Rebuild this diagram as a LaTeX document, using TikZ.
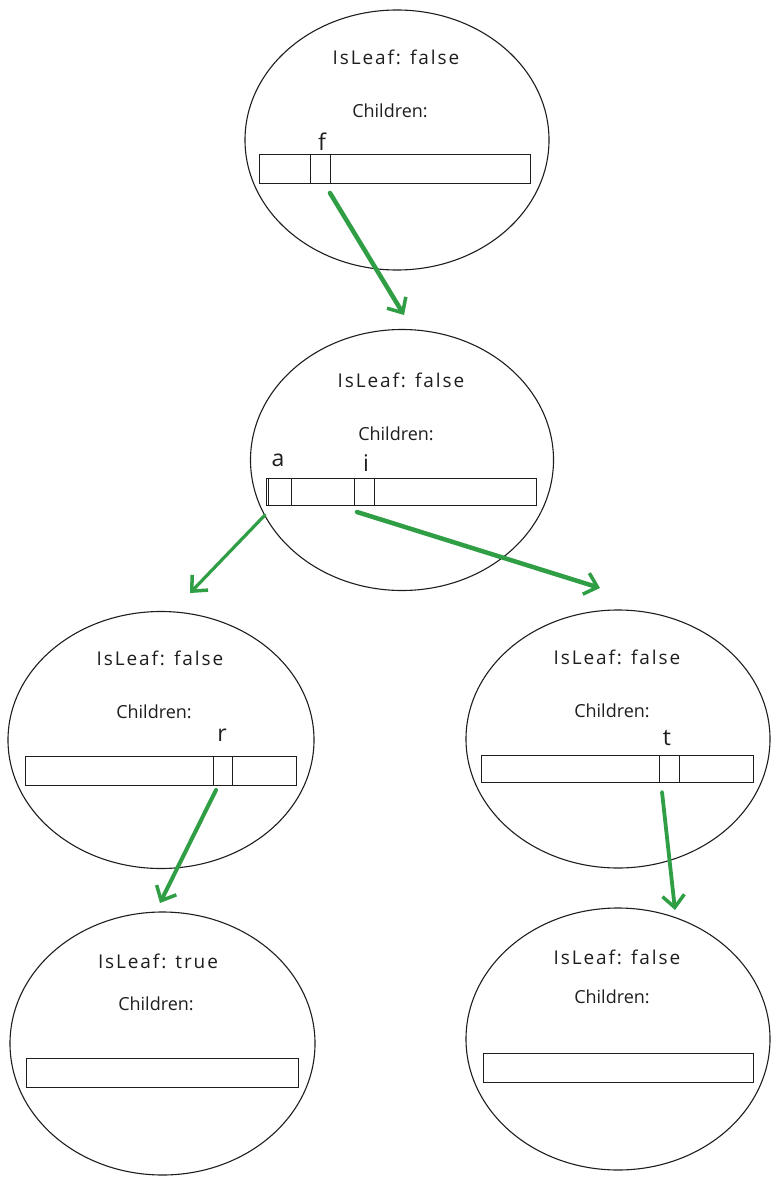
\documentclass[tikz,border=0pt]{standalone}
\usepackage{fontspec}
\setmainfont{Open Sans}
\newfontfamily\sketchfont[LetterSpace=10]{Open Sans}
\usetikzlibrary{shapes.geometric,arrows.meta}
\definecolor{ink}{HTML}{1E1E1E}
\definecolor{grn}{HTML}{2F9E44}
\begin{document}
\begin{tikzpicture}[x=1pt,y=-1pt,
  treenode/.style={draw=ink,line width=1.1pt,ellipse,inner sep=0pt},
  lbl/.style={font=\sketchfont\fontsize{19}{22}\selectfont,text=ink,inner sep=0pt},
  chl/.style={font=\fontsize{18}{21}\selectfont,text=ink,inner sep=0pt},
  key/.style={font=\fontsize{23}{25}\selectfont,text=ink,inner sep=0pt},
  barbox/.style={draw=ink,line width=1pt,rectangle,inner sep=0pt},
  link/.style={draw=grn,line width=4.5pt,line cap=round,-{Straight Barb[length=12pt,width=22pt,line width=3.5pt]}}]
\useasboundingbox (0,0) rectangle (781,1185);
\fill[white] (0,0) rectangle (781,1185);

% node 1
\node[treenode,minimum width=304pt,minimum height=260pt] (n1) at (397,140) {};
\node[lbl] (t1) at (396,57) {IsLeaf: false};
\node[chl] (c1) at (390,111) {Children:};
\node[barbox,minimum width=271pt,minimum height=29pt] (b1) at (394.5,169.5) {};
\node[barbox,minimum width=20pt,minimum height=29pt] (k1) at (320,169.5) {};
\node[key] (l1) at (322,142) {f};

% node 2
\node[treenode,minimum width=303pt,minimum height=261pt] (n2) at (402,460) {};
\node[lbl] (t2) at (401,380) {IsLeaf: false};
\node[chl] (c2) at (396,434) {Children:};
\node[barbox,minimum width=270pt,minimum height=27pt] (b2) at (401,491.5) {};
\node[barbox,minimum width=23pt,minimum height=27pt] (k2a) at (279.5,491.5) {};
\node[barbox,minimum width=20pt,minimum height=27pt] (k2i) at (364,491.5) {};
\node[key] (l2a) at (278,460) {a};
\node[key] (l2i) at (366,463) {i};

% node 3
\node[treenode,minimum width=306pt,minimum height=257pt] (n3) at (161,740) {};
\node[lbl] (t3) at (160,658) {IsLeaf: false};
\node[chl] (c3) at (154,712) {Children:};
\node[barbox,minimum width=271pt,minimum height=29pt] (b3) at (160.5,770.5) {};
\node[barbox,minimum width=19pt,minimum height=29pt] (k3) at (222.5,770.5) {};
\node[key] (l3) at (222,735) {r};

% node 4
\node[treenode,minimum width=304pt,minimum height=258pt] (n4) at (618,739) {};
\node[lbl] (t4) at (617,657) {IsLeaf: false};
\node[chl] (c4) at (612,711) {Children:};
\node[barbox,minimum width=272pt,minimum height=27pt] (b4) at (617,768.5) {};
\node[barbox,minimum width=20pt,minimum height=27pt] (k4) at (669,768.5) {};
\node[key] (l4) at (667,738) {t};

% node 5
\node[treenode,minimum width=305pt,minimum height=263pt] (n5) at (162.5,1043.5) {};
\node[lbl] (t5) at (158,961) {IsLeaf: true};
\node[chl] (c5) at (156,1004) {Children:};
\node[barbox,minimum width=272pt,minimum height=29pt] (b5) at (162,1072.5) {};

% node 6
\node[treenode,minimum width=304pt,minimum height=262pt] (n6) at (618,1039) {};
\node[lbl] (t6) at (617,957) {IsLeaf: false};
\node[chl] (c6) at (612,997) {Children:};
\node[barbox,minimum width=270pt,minimum height=29pt] (b6) at (618,1067.5) {};

% arrow endpoints
\coordinate (s1) at (330,193);  \coordinate (e1) at (404,315);
\coordinate (s2) at (265,515);  \coordinate (e2) at (190,593);
\coordinate (s3) at (357,512);  \coordinate (e3) at (600,588);
\coordinate (s4) at (216,790);  \coordinate (e4) at (160,903);
\coordinate (s5) at (662,792);  \coordinate (e5) at (675,910);

\draw[link] (s1) -- (e1);
\draw[link,line width=3.2pt] (s2) -- (e2);
\draw[link] (s3) -- (e3);
\draw[link,line width=4pt] (s4) -- (e4);
\draw[link,line width=3.8pt] (s5) -- (e5);
\end{tikzpicture}
\end{document}
